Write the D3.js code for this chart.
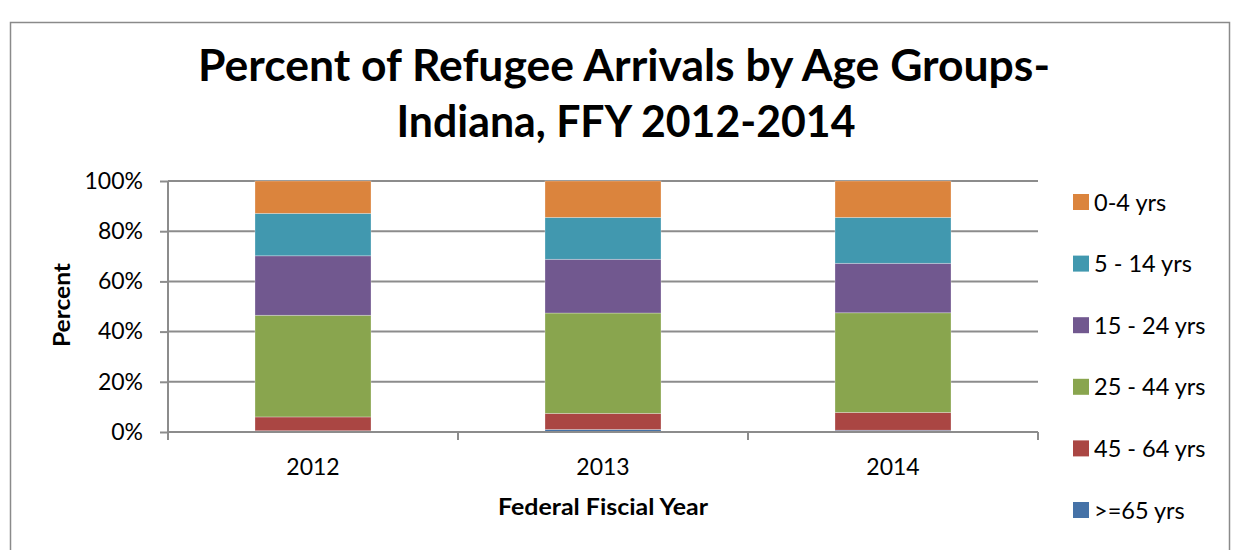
<!DOCTYPE html>
<html>
<head>
<meta charset="utf-8">
<script src="https://cdn.jsdelivr.net/npm/d3@7/dist/d3.min.js"></script>
<style>
  html, body { margin: 0; padding: 0; background: #fff; }
  svg { display: block; font-family: Lato, "Open Sans", "Liberation Sans", sans-serif; }
</style>
</head>
<body>
<svg id="chart" width="1237" height="550"></svg>
<script>
// Fiscal years on the x axis
const years = ["2012", "2013", "2014"];

// Age groups, stacked bottom to top
const ageGroups = [">=65 yrs", "45 - 64 yrs", "25 - 44 yrs", "15 - 24 yrs", "5 - 14 yrs", "0-4 yrs"];

// Share of arrivals (%) per age group, one entry per fiscal year
const age65plus = [0.5, 1.0, 0.7];
const age45to64 = [5.5, 6.4, 7.1];
const age25to44 = [40.5, 40.0, 39.7];
const age15to24 = [23.7, 21.4, 19.7];
const age5to14  = [16.9, 16.7, 18.3];
const age0to4   = [12.9, 14.5, 14.5];

const yTicks = [0, 20, 40, 60, 80, 100];

const seriesValues = [age65plus, age45to64, age25to44, age15to24, age5to14, age0to4];
const colors = ["#4572A7", "#AA4643", "#89A54E", "#71588F", "#4198AF", "#DB843D"];

const rows = years.map((yr, i) => {
  const r = { year: yr };
  ageGroups.forEach((g, k) => { r[g] = seriesValues[k][i]; });
  return r;
});

const svg = d3.select("#chart");

// outer frame
svg.append("rect")
  .attr("x", 10.5).attr("y", 22.5)
  .attr("width", 1219).attr("height", 600)
  .attr("fill", "none").attr("stroke", "#8a8a8a").attr("stroke-width", 1.5);

// title
const title = svg.append("g").attr("font-weight", "bold").attr("fill", "#000")
  .attr("text-anchor", "middle").attr("font-size", 44);
title.append("text").attr("x", 624).attr("y", 81)
  .attr("textLength", 852).attr("lengthAdjust", "spacingAndGlyphs")
  .text("Percent of Refugee Arrivals by Age Groups-");
title.append("text").attr("x", 626).attr("y", 137)
  .attr("textLength", 459).attr("lengthAdjust", "spacingAndGlyphs")
  .text("Indiana, FFY 2012-2014");

const plotLeft = 168, plotRight = 1038, plotTop = 181, plotBottom = 432;

const x = d3.scaleBand().domain(years).range([plotLeft, plotRight])
  .paddingInner(0.6).paddingOuter(0.3);
const y = d3.scaleLinear().domain([0, 100]).range([plotBottom, plotTop]);

// gridlines
svg.append("g")
  .selectAll("line").data(yTicks.filter(t => t > 0)).join("line")
  .attr("x1", plotLeft).attr("x2", plotRight)
  .attr("y1", d => y(d)).attr("y2", d => y(d))
  .attr("stroke", "#8c8c8c").attr("stroke-width", 2);

// stacked bars
const stack = d3.stack().keys(ageGroups);
const layers = stack(rows);

svg.append("g").selectAll("g").data(layers).join("g")
  .attr("fill", (d, i) => colors[i])
  .selectAll("rect").data(d => d).join("rect")
  .attr("x", d => x(d.data.year))
  .attr("width", x.bandwidth())
  .attr("y", d => y(d[1]))
  .attr("height", d => y(d[0]) - y(d[1]))
  .attr("stroke", "rgba(255,255,255,0.35)").attr("stroke-width", 0.8);

// y axis
const yAxis = d3.axisLeft(y).tickValues(yTicks).tickFormat(d => d + "%")
  .tickSize(8).tickPadding(17);
const yg = svg.append("g").attr("transform", `translate(${plotLeft},0)`).call(yAxis);
yg.select(".domain").remove();
yg.selectAll(".tick line").attr("stroke", "#8c8c8c").attr("stroke-width", 2);
yg.selectAll(".tick text").attr("font-size", 23).attr("fill", "#000")
  .attr("font-family", "Lato, sans-serif");
svg.append("line").attr("x1", plotLeft).attr("x2", plotLeft)
  .attr("y1", plotTop).attr("y2", plotBottom + 8)
  .attr("stroke", "#8c8c8c").attr("stroke-width", 2);

// x axis
svg.append("line").attr("x1", plotLeft).attr("x2", plotRight)
  .attr("y1", plotBottom).attr("y2", plotBottom)
  .attr("stroke", "#8c8c8c").attr("stroke-width", 2);
const step = x.step();
const boundaries = d3.range(years.length + 1).map(i => plotLeft + i * step);
svg.append("g").selectAll("line").data(boundaries).join("line")
  .attr("x1", d => d).attr("x2", d => d).attr("y1", plotBottom).attr("y2", plotBottom + 8)
  .attr("stroke", "#8c8c8c").attr("stroke-width", 2);
svg.append("g").selectAll("text").data(years).join("text")
  .attr("x", d => x(d) + x.bandwidth() / 2).attr("y", 475)
  .attr("text-anchor", "middle").attr("font-size", 23).attr("fill", "#000")
  .text(d => d);

// axis titles
svg.append("text").attr("x", 603).attr("y", 515)
  .attr("text-anchor", "middle").attr("font-size", 23).attr("font-weight", "bold")
  .attr("textLength", 210).attr("lengthAdjust", "spacingAndGlyphs")
  .text("Federal Fiscial Year");
svg.append("text").attr("transform", "translate(70,305) rotate(-90)")
  .attr("text-anchor", "middle").attr("font-size", 23).attr("font-weight", "bold")
  .attr("textLength", 84).attr("lengthAdjust", "spacingAndGlyphs")
  .text("Percent");

// legend (top entry = top of stack)
const legendItems = ageGroups.map((g, i) => ({ g, c: colors[i] })).reverse();
const lg = svg.append("g").selectAll("g").data(legendItems).join("g")
  .attr("transform", (d, i) => `translate(1073,${202 + i * 61.6})`);
lg.append("rect").attr("x", 0).attr("y", -8).attr("width", 16).attr("height", 16)
  .attr("fill", d => d.c);
lg.append("text").attr("x", 21).attr("y", 8.5).attr("font-size", 23.5).attr("fill", "#000")
  .text(d => d.g);
</script>
</body>
</html>
